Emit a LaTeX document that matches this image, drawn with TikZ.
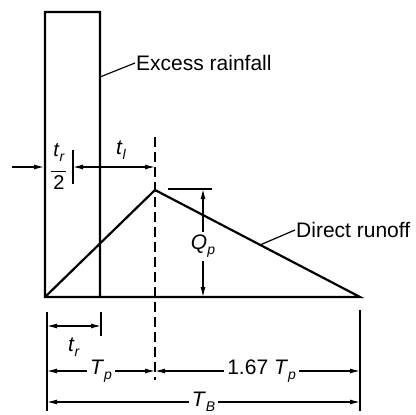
\documentclass[tikz,border=0pt]{standalone}
\usepackage{fontspec}
\setmainfont{Liberation Sans}
\usetikzlibrary{arrows.meta}
\newcommand\lab[2]{\textit{#1}\raisebox{-0.45ex}{\fontsize{14}{14}\selectfont\textit{#2}}}
\tikzset{
  main/.style={line width=2.2pt, line join=miter},
  dim/.style={line width=1.2pt},
  dimarr/.style={line width=1.2pt, {Latex[length=10pt,width=5pt]}-{Latex[length=10pt,width=5pt]}},
  onearr/.style={line width=1.2pt, -{Latex[length=10pt,width=5pt]}},
  lbl/.style={font=\fontsize{21}{24}\selectfont, inner sep=1pt},
  blank/.style={lbl, fill=white, inner sep=3pt},
}
\begin{document}
\begin{tikzpicture}[x=1pt,y=-1pt]
\useasboundingbox (0,0) rectangle (416,415);
% main geometry
\coordinate (A) at (45,297);
\coordinate (R1) at (45,12);
\coordinate (R2) at (100,12);
\coordinate (R3) at (100,297);
\coordinate (P) at (155,190);
\coordinate (E) at (360,297);
\draw[main] (R3) -- (R2) -- (R1) -- (A) -- (E) -- (P) -- (A);
% dashed peak line
\coordinate (D1) at (155,137);
\coordinate (D2) at (155,380);
\draw[line width=1.2pt, dash pattern=on 10pt off 5pt] (D1) -- (D2);
% labels with leaders
\node[lbl, anchor=west] (ex) at (135,63) {Excess rainfall};
\coordinate (exl) at (100,77);
\draw[dim] (exl) -- (ex.west);
\node[lbl, anchor=west] (dr) at (295,230) {Direct runoff};
\coordinate (drl) at (260,245);
\draw[dim] (drl) -- (dr.west);
% top dimension row
\coordinate (L0) at (12,167);
\coordinate (L1) at (44,167);
\draw[onearr] (L0) -- (L1);
\coordinate (T1a) at (73,150);
\coordinate (T1b) at (73,184);
\draw[dim] (T1a) -- (T1b);
\coordinate (T1m) at (73,167);
\coordinate (Pm) at (155,167);
\draw[dimarr] (T1m) -- (Pm);
\node[inner sep=0pt, align=center, font=\fontsize{20}{20}\selectfont] (half) at (59,167) {\lab{t}{r}\\[-5pt]\rule{15pt}{0.9pt}\\[-2pt]2};
\node[lbl] (tl) at (121,150) {\lab{t}{l}};
% Qp
\coordinate (Q0) at (168,189);
\coordinate (Q1) at (212,189);
\draw[dim] (Q0) -- (Q1);
\coordinate (Qt) at (203,189);
\coordinate (Qb) at (203,297);
\draw[dimarr] (Qt) -- (Qb) node[blank, pos=0.53] (qp) {\lab{Q}{p}};
% bottom extension lines
\coordinate (X1a) at (47,312);
\coordinate (X1b) at (47,411);
\draw[dim] (X1a) -- (X1b);
\coordinate (X2a) at (101,312);
\coordinate (X2b) at (101,336);
\draw[dim] (X2a) -- (X2b);
\coordinate (X3a) at (360,310);
\coordinate (X3b) at (360,411);
\draw[dim] (X3a) -- (X3b);
% tr row
\coordinate (r1) at (47,326);
\coordinate (r2) at (101,326);
\draw[dimarr] (r1) -- (r2);
\node[lbl] (tr) at (74,347) {\lab{t}{r}};
% Tp row
\coordinate (p1) at (47,371);
\coordinate (p2) at (155,371);
\coordinate (p3) at (360,371);
\draw[dimarr] (p1) -- (p2) node[blank, pos=0.5] (tp) {\lab{T}{p}};
\draw[dimarr] (p2) -- (p3) node[blank, pos=0.52] (tp2) {1.67 \lab{T}{p}};
% TB row
\coordinate (b1) at (47,402);
\coordinate (b2) at (360,402);
\draw[dimarr] (b1) -- (b2) node[blank, pos=0.5, inner ysep=1pt] (tb) {\lab{T}{B}};
\end{tikzpicture}
\end{document}
